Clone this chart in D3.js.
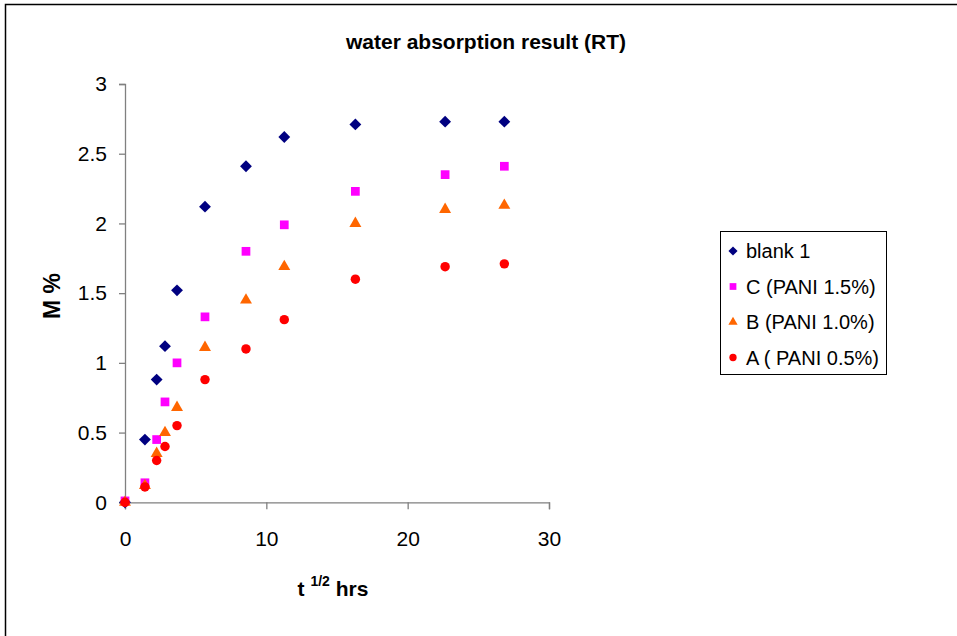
<!DOCTYPE html>
<html>
<head>
<meta charset="utf-8">
<script src="https://cdn.jsdelivr.net/npm/d3@7"></script>
<style>
  body { margin: 0; background: #fff; }
  text { font-family: "Liberation Sans", Arial, sans-serif; }
</style>
</head>
<body>
<div id="chart"></div>
<script>
// t^1/2 (hrs) values shared by all series
var tHalf = [0, 1.41, 2.24, 2.83, 3.68, 5.66, 8.56, 11.27, 16.3, 22.65, 26.84];

var seriesNames = ["blank 1", "C (PANI 1.5%)", "B (PANI 1.0%)", "A ( PANI 0.5%)"];
var blank1 = [0, 0.45, 0.88, 1.12, 1.52, 2.12, 2.41, 2.62, 2.71, 2.73, 2.73];
var panC = [0.01, 0.14, 0.45, 0.72, 1.0, 1.33, 1.80, 1.99, 2.23, 2.35, 2.41];
var panB = [0, 0.12, 0.35, 0.50, 0.68, 1.11, 1.45, 1.69, 2.0, 2.10, 2.13];
var panA = [0, 0.11, 0.30, 0.40, 0.55, 0.88, 1.10, 1.31, 1.60, 1.69, 1.71];

var xTicks = [0, 10, 20, 30];
var yTicks = [0, 0.5, 1, 1.5, 2, 2.5, 3];

var svgWidth = 957, svgHeight = 636;

var svg = d3.select("#chart").append("svg")
  .attr("width", svgWidth)
  .attr("height", svgHeight);

// outer frame (top + left edges only visible)
svg.append("path")
  .attr("d", "M5.5,636 L5.5,4.5 L957,4.5")
  .attr("fill", "none")
  .attr("stroke", "#000")
  .attr("stroke-width", 1.5);

var x = d3.scaleLinear().domain([0, 30]).range([125, 549]);
var y = d3.scaleLinear().domain([0, 3]).range([502.3, 84]);

// axes
var xAxis = svg.append("g")
  .attr("transform", "translate(0," + y(0) + ")")
  .call(d3.axisBottom(x).tickValues(xTicks).tickSize(7).tickPadding(10).tickFormat(d3.format("d")));

var yAxis = svg.append("g")
  .attr("transform", "translate(" + x(0) + ",0)")
  .call(d3.axisLeft(y).tickValues(yTicks).tickSize(6).tickPadding(12).tickFormat(function(d) { return d; }));

[xAxis, yAxis].forEach(function(a) {
  a.select(".domain").attr("stroke", "#808080").attr("stroke-width", 1.3);
  a.selectAll(".tick line").attr("stroke", "#808080").attr("stroke-width", 1.3);
  a.selectAll(".tick text")
    .attr("fill", "#000")
    .style("font-size", "21px")
    .style("font-family", "Liberation Sans, Arial, sans-serif");
});
xAxis.selectAll(".tick text").attr("y", 44).attr("dy", 0);

// title
svg.append("text")
  .attr("x", 486)
  .attr("y", 49)
  .attr("text-anchor", "middle")
  .style("font-size", "21px")
  .style("font-weight", "bold")
  .text("water absorption result (RT)");

// y axis title
svg.append("text")
  .attr("transform", "translate(60,296) rotate(-90)")
  .attr("text-anchor", "middle")
  .style("font-size", "23px")
  .style("font-weight", "bold")
  .text("M %");

// x axis title with superscript
var xt = svg.append("text")
  .attr("x", 333)
  .attr("y", 596)
  .attr("text-anchor", "middle")
  .style("font-size", "21px")
  .style("font-weight", "bold");
xt.append("tspan").text("t ");
xt.append("tspan").attr("dy", -10).style("font-size", "14px").text("1/2");
xt.append("tspan").attr("dy", 10).text(" hrs");

var series = [
  { name: seriesNames[0], values: blank1, color: "#000080", shape: d3.symbolSquare, size: 70, rot: 45 },
  { name: seriesNames[1], values: panC, color: "#FF00FF", shape: d3.symbolSquare, size: 76, rot: 0 },
  { name: seriesNames[2], values: panB, color: "#FF6600", shape: d3.symbolTriangle, size: 62, rot: 0 },
  { name: seriesNames[3], values: panA, color: "#FF0000", shape: d3.symbolCircle, size: 70, rot: 0 }
];

series.forEach(function(s) {
  svg.append("g").selectAll("path")
    .data(s.values.map(function(v, i) { return { x: tHalf[i], y: v }; }))
    .enter()
    .append("path")
    .attr("transform", function(d) { return "translate(" + x(d.x) + "," + y(d.y) + ") rotate(" + s.rot + ")"; })
    .attr("d", d3.symbol().type(s.shape).size(s.size))
    .attr("fill", s.color);
});

// legend
var legend = svg.append("g");
legend.append("rect")
  .attr("x", 720.5).attr("y", 231.5)
  .attr("width", 166).attr("height", 143)
  .attr("fill", "#fff")
  .attr("stroke", "#000")
  .attr("stroke-width", 1);

var items = legend.selectAll(".item")
  .data(series)
  .enter()
  .append("g")
  .attr("transform", function(d, i) { return "translate(733," + (251 + i * 35.5) + ")"; });

items.append("path")
  .attr("transform", function(d) { return "rotate(" + d.rot + ")"; })
  .attr("d", function(d) { return d3.symbol().type(d.shape).size(d.size * 0.6)(); })
  .attr("fill", function(d) { return d.color; });

items.append("text")
  .attr("x", 13)
  .attr("dy", "0.36em")
  .style("font-size", "20px")
  .text(function(d) { return d.name; });
</script>
</body>
</html>
